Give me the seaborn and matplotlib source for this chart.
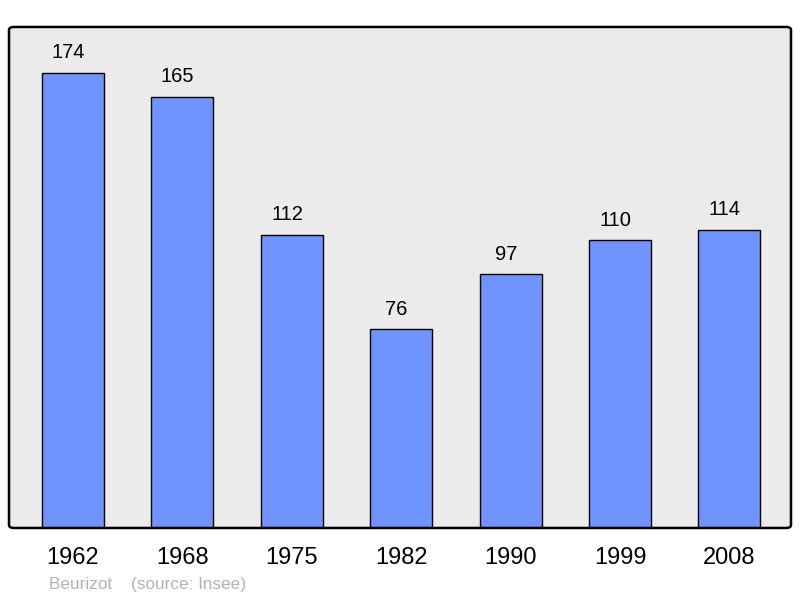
import matplotlib
matplotlib.use("Agg")
import matplotlib.pyplot as plt
from matplotlib.patches import FancyBboxPatch
import seaborn as sns
import pandas as pd

years = ["1962", "1968", "1975", "1982", "1990", "1999", "2008"]
population = [174, 165, 112, 76, 97, 110, 114]

sns.set_style("white")
plt.rcParams["font.family"] = ["Liberation Sans", "DejaVu Sans"]

df = pd.DataFrame({"year": years, "pop": population})

fig = plt.figure(figsize=(8, 5.98), dpi=100)
ax = fig.add_axes([0.01125, 0.1171, 0.9775, 0.8378])
ax.set_facecolor("#ebebeb")

sns.barplot(data=df, x="year", y="pop", color="#7094ff", saturation=1,
            width=0.567, edgecolor="black", linewidth=1, ax=ax)

# value labels over bars, a bit left of centre like the original
for i, v in enumerate(population):
    ax.annotate(str(v), (i, v), xytext=(-3.5, 14.5), textcoords="offset points",
                ha="center", va="center", fontsize=14.5, color="black")

ax.set_xlim(-0.585, 6.563)
ax.set_ylim(0, 191.6)
ax.set_yticks([])
ax.set_xlabel("")
ax.set_ylabel("")
ax.tick_params(axis="x", length=0, pad=13.5, labelsize=17, labelcolor="black")
for s in ax.spines.values():
    s.set_visible(False)

# rounded frame
frame = FancyBboxPatch((0, 0), 1, 1, boxstyle="round,pad=0,rounding_size=0.006",
                       transform=ax.transAxes, facecolor="none", edgecolor="black",
                       linewidth=1.8, clip_on=False, zorder=5)
ax.add_patch(frame)

fig.text(49 / 800, 1 - 584.5 / 598, "Beurizot    (source: Insee)", color="#b3b3b3",
         fontsize=12.3, va="center", ha="left")

fig.savefig("out.png", dpi=100)
